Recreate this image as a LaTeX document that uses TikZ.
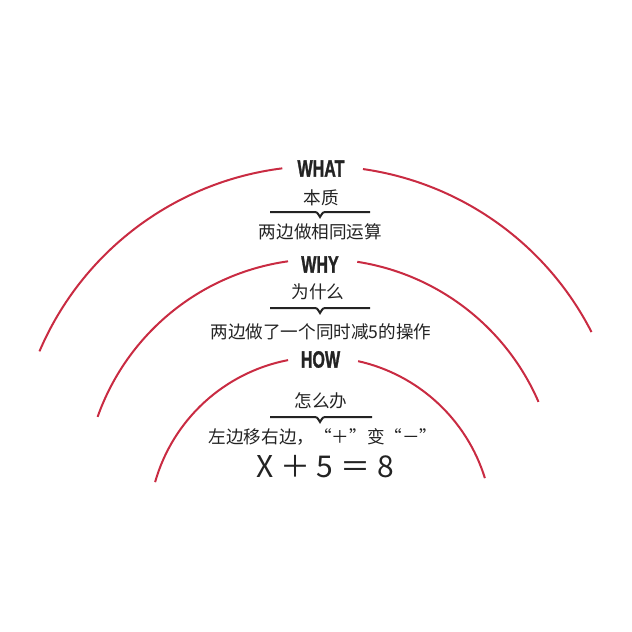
\documentclass[tikz,border=0pt]{standalone}
\usepackage{fontspec}
\newfontfamily\cjkfont{Noto Sans CJK SC}
\newfontfamily\cjkfull[CharacterWidth=Full]{Noto Sans CJK SC}
\newfontfamily\tagfont[FakeStretch=0.68,FakeBold=1.2]{Liberation Sans}

\tikzset{every picture/.style={line width=0.75pt}}
\definecolor{arcred}{RGB}{201,43,66}
\definecolor{inkgray}{RGB}{35,35,35}
\tikzset{
  arcline/.style={color=arcred, draw opacity=1, line width=1.5pt},
  braceline/.style={color=inkgray, line width=1.5pt},
  tagtext/.style={inner sep=0.75pt, color=inkgray, font=\tagfont\bfseries\fontsize{17.7}{20}\selectfont},
  cjktext/.style={inner sep=0.75pt, color=inkgray, font=\cjkfont\fontsize{13.2}{15}\selectfont}
}

\begin{document}
\begin{tikzpicture}[x=0.75pt,y=0.75pt,yscale=-1,xscale=1]
%set diagram left start at 0, and has height of 632
\path (0,0) rectangle (632,632);

% Arc centres
\coordinate (cwhat) at (320,471);
\coordinate (cwhy) at (321,496);
\coordinate (chow) at (320.6,529);

%Shape: Arc WHAT left
\draw [arcline] ([shift={(-156.9:305)}]cwhat) arc [start angle=-156.9, end angle=-97.1, radius=305];
%Shape: Arc WHAT right
\draw [arcline] ([shift={(-81.9:305)}]cwhat) arc [start angle=-81.9, end angle=-27.1, radius=305];
%Shape: Arc WHY left
\draw [arcline] ([shift={(-160.5:237)}]cwhy) arc [start angle=-160.5, end angle=-98, radius=237];
%Shape: Arc WHY right
\draw [arcline] ([shift={(-81.2:237)}]cwhy) arc [start angle=-81.2, end angle=-23.4, radius=237];
%Shape: Arc HOW left
\draw [arcline] ([shift={(-164.2:172)}]chow) arc [start angle=-164.2, end angle=-100.9, radius=172];
%Shape: Arc HOW right
\draw [arcline] ([shift={(-77.4:172)}]chow) arc [start angle=-77.4, end angle=-17.2, radius=172];

% Text Node
\node [tagtext] (what) at (321,168.5) {WHAT};
% Text Node
\node [cjktext] (benzhi) at (321,198) {本质};
% Brace
\draw [braceline] (270,212) -- (313,212) .. controls (317,212) .. (320,217) .. controls (323,212) .. (327,212) -- (370,212);
% Text Node
\node [cjktext] (what-ans) at (320.5,232) {两边做相同运算};

% Text Node
\node [tagtext] (why) at (320,264.5) {WHY};
% Text Node
\node [cjktext] (weishenme) at (318,292) {为什么};
% Brace
\draw [braceline] (270,308) -- (313,308) .. controls (317,308) .. (320,313) .. controls (323,308) .. (327,308) -- (370,308);
% Text Node
\node [cjktext] (why-ans) at (321,332) {两边做了一个同时减5的操作};

% Text Node
\node [tagtext] (how) at (320.5,359.5) {HOW};
% Text Node
\node [cjktext] (zenmeban) at (321,401) {怎么办};
% Brace
\draw [braceline] (270,417) -- (313,417) .. controls (317,417) .. (320,422) .. controls (323,417) .. (327,417) -- (372,417);
% Text Node
\node [cjktext, font=\cjkfull\fontsize{13.2}{15}\selectfont] (how-ans) at (323,437) {左边移右边，“＋”变“－”};
% Text Node
\node [inner sep=0.75pt, color=inkgray, font=\cjkfont\fontsize{22.5}{26}\selectfont] (equation) at (325,467) {X ＋ 5 ＝ 8};

\end{tikzpicture}
\end{document}
